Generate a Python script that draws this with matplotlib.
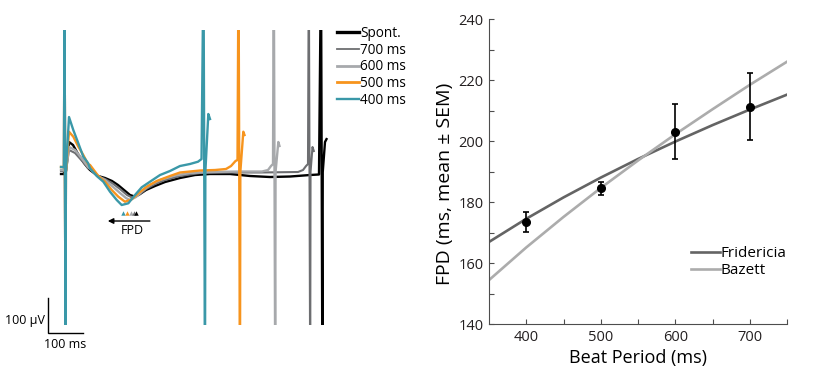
import matplotlib
matplotlib.use("Agg")
import matplotlib.pyplot as plt
from matplotlib.lines import Line2D
import numpy as np

plt.rcParams['font.family'] = ['Open Sans', 'DejaVu Sans']

W, H = 836, 392

# ---------------- Left panel data (time in ms, voltage in µV) ----------------
labels = ["Spont.", "700 ms", "600 ms", "500 ms", "400 ms"]
colors = ["#000000", "#6d6e71", "#a7a9ac", "#f7941d", "#3a98a8"]

t_spont = [-11.6, -2.9, -1.5, 1.5, 2.5, 11.6, 23.2, 37.7, 55.1, 66.7, 72.5, 95.7, 115.9, 136.2, 153.6, 171, 188.4,
           201.4, 217.4, 234.8, 260.9, 289.9, 333.3, 376.8, 420.3, 478.3, 536.2, 594.2, 652.2, 710.1, 736.2,
           742, 746.1, 747.1, 753.6, 758]
v_spont = [-5.7, -5.7, 600, -600, 0, 85.7, 77.1, 51.4, 25.7, 11.4, 5.7, -11.4, -17.1, -25.7, -37.1, -51.4, -65.7,
           -70, -62.9, -51.4, -40, -28.6, -17.1, -8.6, -5.7, -5.7, -11.4, -14.3, -12.9, -8.6, -7.1,
           600, -600, 0, 85.7, 94]

t_700 = [-11.6, -2.9, -1.5, 1.5, 2.5, 11.6, 29, 52.2, 66.7, 72.5, 95.7, 115.9, 136.2, 159.4, 179.7, 197.1, 214.5,
         234.8, 260.9, 289.9, 333.3, 391.3, 478.3, 565.2, 675.4, 689.9, 698.6, 704.3, 706.7, 710.7, 711.7,
         717.4, 721.2]
v_700 = [2.9, 2.9, 600, -600, 0, 62.9, 54.3, 28.6, 11.4, 8.6, -12.9, -20, -31.4, -48.6, -65.7, -74.3, -65.7,
         -48.6, -34.3, -22.9, -11.4, -2.9, -1.4, -1.4, 0, 5.7, 17.1, 22.9, 600, -600, 0, 71.4, 60]

t_600 = [-11.6, -2.9, -1.5, 1.5, 2.5, 11.6, 29, 52.2, 66.7, 72.5, 95.7, 115.9, 136.2, 159.4, 176.8, 188.4, 205.8,
         223.2, 246.4, 275.4, 318.8, 362.3, 420.3, 507.2, 571, 588.4, 597.1, 602.9, 605.2, 609.3, 610.3,
         618.3, 621.7]
v_600 = [5.7, 5.7, 600, -600, 0, 71.4, 62.9, 34.3, 14.3, 10, -11.4, -22.9, -40, -60, -74.3, -80, -71.4,
         -54.3, -37.1, -22.9, -10, -2.9, 0, 1.4, 1.4, 5.7, 17.1, 22.9, 600, -600, 0, 85.7, 74.3]

t_500 = [-11.6, -2.9, -1.5, 1.5, 2.5, 11.6, 24, 38.6, 53, 66.7, 72.5, 96.5, 115.9, 135.4, 154.5, 173.9, 193.3,
         212.5, 236.8, 265.8, 304.3, 333.3, 391.3, 434.8, 466.7, 481.2, 494.2, 500, 502.9, 507.2, 508.2,
         516.8, 520.3]
v_500 = [14.3, 14.3, 600, -600, 0, 115, 101, 72.3, 48.6, 22.9, 20, -11.4, -27.7, -51.4, -70.6, -84.9, -78,
         -60.9, -42, -25.7, -11.4, -1.4, 4.3, 5.7, 8.6, 17.1, 31.4, 34.3, 600, -600, 0, 115.1, 105.7]

t_400 = [-11.6, -2.9, -1.5, 1.5, 2.5, 11.6, 24, 38.6, 53, 66.7, 72.5, 91.9, 111, 130.4, 149.9, 164.3, 183.5,
         202.9, 222.3, 246.4, 275.4, 304.3, 333.3, 362.3, 385.5, 395.7, 401.4, 405.8, 406.8, 415.4, 420.3]
v_400 = [14.3, 14, 600, -600, 0, 157, 120, 82, 43.7, 25.7, 10.6, -11.4, -27.7, -56.3, -80, -94.3, -89.4,
         -65.7, -43.7, -27.7, -8.6, 2.9, 17.1, 22.9, 29.4, 37, 600, -600, 0, 165.7, 151.4]

traces_t = [t_spont, t_700, t_600, t_500, t_400]
traces_v = [v_spont, v_700, v_600, v_500, v_400]

# FPD end markers (ms) for 400, 500, 600, 700, spont
fpd_marker_t = [168, 180, 190, 199, 207]
fpd_marker_colors = ["#3a98a8", "#f7941d", "#a7a9ac", "#6d6e71", "#000000"]

# ---------------- Right panel data ----------------
beat_period = [400, 500, 600, 700]
fpd_mean = [173.5, 184.5, 203.0, 211.3]
fpd_sem = [3.3, 2.2, 9.0, 11.0]

curve_x = [350, 400, 450, 500, 550, 600, 650, 700, 750]
fridericia = [166.9, 174.5, 181.5, 188.0, 194.1, 199.8, 205.2, 210.3, 215.2]
bazett = [154.4, 165.1, 175.1, 184.6, 193.6, 202.2, 210.4, 218.4, 226.0]

# ---------------- Figure ----------------
fig = plt.figure(figsize=(W / 100, H / 100), dpi=100)

def rect(x0, y0, x1, y1):
    return [x0 / W, 1 - y1 / H, (x1 - x0) / W, (y1 - y0) / H]

# Left panel
ax1 = fig.add_axes(rect(40, 30, 340, 325))
ax1.set_xlim(-72.5, 797.1)
ax1.set_ylim(-437.1, 405.7)
ax1.axis('off')

lws = [1.7, 1.5, 1.7, 1.7, 1.7]
for t, v, c, lw in zip(traces_t, traces_v, colors, lws):
    ax1.plot(t, v, color=c, lw=lw, solid_joinstyle='round')

for tm, c in zip(fpd_marker_t, fpd_marker_colors):
    ax1.plot(tm, -116, marker='^', ms=3.2, color=c, mec='none', clip_on=False)

ax1.annotate("", xy=(124, -140), xytext=(246, -140),
             arrowprops=dict(arrowstyle='-|>', color='black', lw=1.0,
                             mutation_scale=8, shrinkA=0, shrinkB=0))
ax1.text(194, -168, "FPD", ha='center', va='center', fontsize=9)

# scale bar
sb_t0, sb_v0 = -49.3, -460
ax1.plot([sb_t0, sb_t0, sb_t0 + 100], [sb_v0 + 100, sb_v0, sb_v0], color='black', lw=1.0,
         clip_on=False, solid_joinstyle='miter')
ax1.text(sb_t0 - 9, sb_v0 + 37, "100 µV", ha='right', va='center', fontsize=9)
ax1.text(sb_t0 + 50, sb_v0 - 34, "100 ms", ha='center', va='center', fontsize=9)

leg_lws = [2.4, 1.3, 2.0, 2.0, 1.7]
handles = [Line2D([], [], color=c, lw=lw) for c, lw in zip(colors, leg_lws)]
leg1 = ax1.legend(handles, labels, loc='upper left', frameon=False, fontsize=9.8,
                  bbox_to_anchor=(337 / W, 1 - 26 / H), bbox_transform=fig.transFigure,
                  handlelength=1.6, handletextpad=0.12, labelspacing=0.12, borderpad=0,
                  borderaxespad=0)

# Right panel
ax2 = fig.add_axes(rect(489, 19, 787, 324))
ax2.plot(curve_x, fridericia, color='#646464', lw=1.9, label='Fridericia')
ax2.plot(curve_x, bazett, color='#acacac', lw=1.9, label='Bazett')
ax2.errorbar(beat_period, fpd_mean, yerr=fpd_sem, fmt='o', color='black', ms=5.5,
             elinewidth=1.2, capsize=2.2, capthick=1.2, zorder=5)
ax2.set_xlim(350, 750)
ax2.set_ylim(140, 240)
ax2.set_xticks([400, 500, 600, 700])
ax2.set_xticks([450, 550, 650, 750], minor=True)
ax2.set_yticks([140, 160, 180, 200, 220, 240])
ax2.set_yticks([150, 170, 190, 210, 230], minor=True)
for s in ['top', 'right']:
    ax2.spines[s].set_visible(False)
for s in ['left', 'bottom']:
    ax2.spines[s].set_color('#4d4d4d')
    ax2.spines[s].set_linewidth(0.8)
ax2.tick_params(which='both', direction='in', color='#4d4d4d', width=0.8, labelsize=10.5,
                labelcolor='#231f20')
ax2.tick_params(which='major', length=3.5, pad=4)
ax2.tick_params(which='minor', length=3.5)
ax2.set_xlabel("Beat Period (ms)", fontsize=13, labelpad=3)
ax2.set_ylabel("FPD (ms, mean ± SEM)", fontsize=14)
ax2.yaxis.set_label_coords(-0.118, 0.46)
ax2.legend(loc='upper left', frameon=False, fontsize=11,
           bbox_to_anchor=(691 / W, 1 - 246 / H), bbox_transform=fig.transFigure,
           handlelength=1.9, handletextpad=0.05, labelspacing=0.15, borderpad=0, borderaxespad=0)

fig.savefig("out.png", dpi=100)
